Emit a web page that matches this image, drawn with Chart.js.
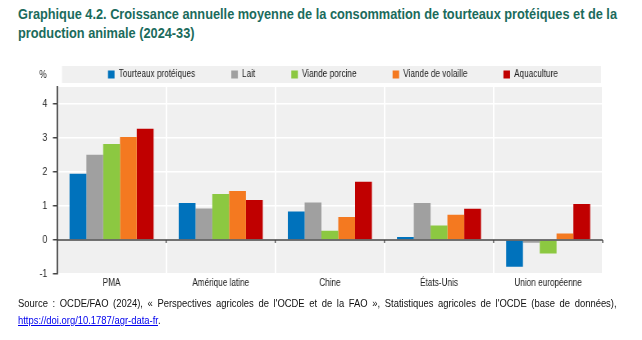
<!DOCTYPE html>
<html lang="fr">
<head>
<meta charset="utf-8">
<script src="https://cdn.jsdelivr.net/npm/chart.js@4"></script>
<style>
    body { margin: 0; width: 642px; height: 340px; background: #fff; overflow: hidden; position: relative;
           font-family: "Liberation Sans", Arial, sans-serif; }
    .ligne { position: absolute; left: 18px; white-space: nowrap; transform-origin: 0 0; }
    .titre { color: #1b6b5c; font-weight: bold; font-size: 15.5px; line-height: 19px; }
    #t1 { top: 4px; }
    #t2 { top: 23px; }
    .src { font-size: 11.5px; line-height: 16px; color: #111; }
    #s1 { top: 295px; width: 730px; text-align: justify; text-align-last: justify; white-space: normal; }
    #s2 { top: 312px; }
    #s2 a { color: #0000ee; }
    /* canvas plus large puis comprime en x : rendu "narrow" */
    #wrap { position: absolute; left: 0; top: 0; width: 783px; height: 300px;
            transform: scaleX(0.82); transform-origin: 0 0; }
</style>
</head>
<body>
<div id="t1" class="ligne titre">Graphique 4.2. Croissance annuelle moyenne de la consommation de tourteaux protéiques et de la</div>
<div id="t2" class="ligne titre">production animale (2024-33)</div>
<div id="wrap"><canvas id="barChart"></canvas></div>
<div id="s1" class="ligne src">Source : OCDE/FAO (2024), « Perspectives agricoles de l'OCDE et de la FAO », Statistiques agricoles de l'OCDE (base de données),</div>
<div id="s2" class="ligne src"><a href="#">https://doi.org/10.1787/agr-data-fr</a>.</div>
<script>
// Donnees du graphique
const regions = ["PMA", "Amérique latine", "Chine", "États-Unis", "Union européenne"];
const tourteaux = [1.95, 1.09, 0.84, 0.09, -0.79];
const lait = [2.51, 0.93, 1.10, 1.09, -0.08];
const porcine = [2.82, 1.35, 0.27, 0.43, -0.40];
const volaille = [3.03, 1.44, 0.68, 0.74, 0.19];
const aquaculture = [3.27, 1.18, 1.71, 0.92, 1.06];
const yTicks = [-1, 0, 1, 2, 3, 4];

const S = 0.82; // compression horizontale
const police = '"Liberation Sans", Arial, sans-serif';

// titre : on ajuste la largeur de la premiere ligne a 599px
const t1 = document.getElementById('t1');
const k = 599 / t1.getBoundingClientRect().width;
t1.style.transform = 'scaleX(' + k + ')';
document.getElementById('t2').style.transform = 'scaleX(' + k + ')';
document.getElementById('s1').style.transform = 'scaleX(' + S + ')';
document.getElementById('s2').style.transform = 'scaleX(' + S + ')';

// fond gris, encadre legende, ligne du zero
const fondPlugin = {
    id: 'fond',
    afterLayout(chart) {
        // legende centree sur l'encadre gris
        const lg = chart.legend;
        lg.left = 29; lg.right = 783; lg.width = 754;
        lg.top += 2.5; lg.bottom += 2.5;
    },
    beforeDraw(chart) {
        const { ctx, chartArea: a } = chart;
        ctx.save();
        ctx.fillStyle = '#f0f0f0';
        ctx.fillRect(a.left, a.top, a.right - a.left, a.bottom - a.top);
        ctx.fillRect(62 / S, 66, 539 / S, 17);
        ctx.fillStyle = '#222';
        ctx.font = '10px ' + police;
        ctx.textAlign = 'center';
        ctx.textBaseline = 'middle';
        ctx.fillText('%', 43 / S, 75);
        ctx.restore();
    },
    afterDatasetsDraw(chart) {
        const { ctx, chartArea: a, scales } = chart;
        const y0 = scales.y.getPixelForValue(0);
        ctx.save();
        ctx.strokeStyle = '#444';
        ctx.lineWidth = 1.3;
        ctx.beginPath();
        ctx.moveTo(a.left, y0);
        ctx.lineTo(a.right, y0);
        const step = (a.right - a.left) / regions.length;
        for (let i = 1; i <= regions.length; i++) {
            const x = a.left + step * i;
            ctx.moveTo(x, y0);
            ctx.lineTo(x, y0 + 3);
        }
        ctx.stroke();
        ctx.restore();
    }
};

const ctx = document.getElementById('barChart');
new Chart(ctx, {
    type: 'bar',
    data: {
        labels: regions,
        datasets: [
            { label: 'Tourteaux protéiques', data: tourteaux, backgroundColor: '#0072bc' },
            { label: 'Lait', data: lait, backgroundColor: '#a0a0a0' },
            { label: 'Viande porcine', data: porcine, backgroundColor: '#8cc841' },
            { label: 'Viande de volaille', data: volaille, backgroundColor: '#f47920' },
            { label: 'Aquaculture', data: aquaculture, backgroundColor: '#c00000' }
        ]
    },
    options: {
        responsive: true,
        maintainAspectRatio: false,
        animation: false,
        datasets: { bar: { barPercentage: 1, categoryPercentage: 0.77 } },
        layout: { padding: { top: 23, left: 0, right: 48, bottom: 8 } },
        plugins: {
            legend: {
                display: true,
                labels: {
                    boxWidth: 8, boxHeight: 8, padding: 44, color: '#222',
                    font: { family: police, size: 10 }
                }
            },
            tooltip: { enabled: false }
        },
        scales: {
            x: {
                grid: { color: '#fff', lineWidth: 2, offset: true, drawTicks: false },
                border: { display: false },
                ticks: { color: '#222', padding: 3, font: { family: police, size: 10 } }
            },
            y: {
                min: -1,
                max: 4.5,
                afterFit(axis) { axis.width = 57 / S; },
                afterBuildTicks(axis) { axis.ticks = yTicks.map(v => ({ value: v })); },
                grid: { color: '#fff', lineWidth: 1.5, tickColor: '#444', tickLength: 5 },
                border: { color: '#444', width: 1.8 },
                ticks: { color: '#222', padding: 7, font: { family: police, size: 10.5 } }
            }
        }
    },
    plugins: [fondPlugin]
});
</script>
</body>
</html>
